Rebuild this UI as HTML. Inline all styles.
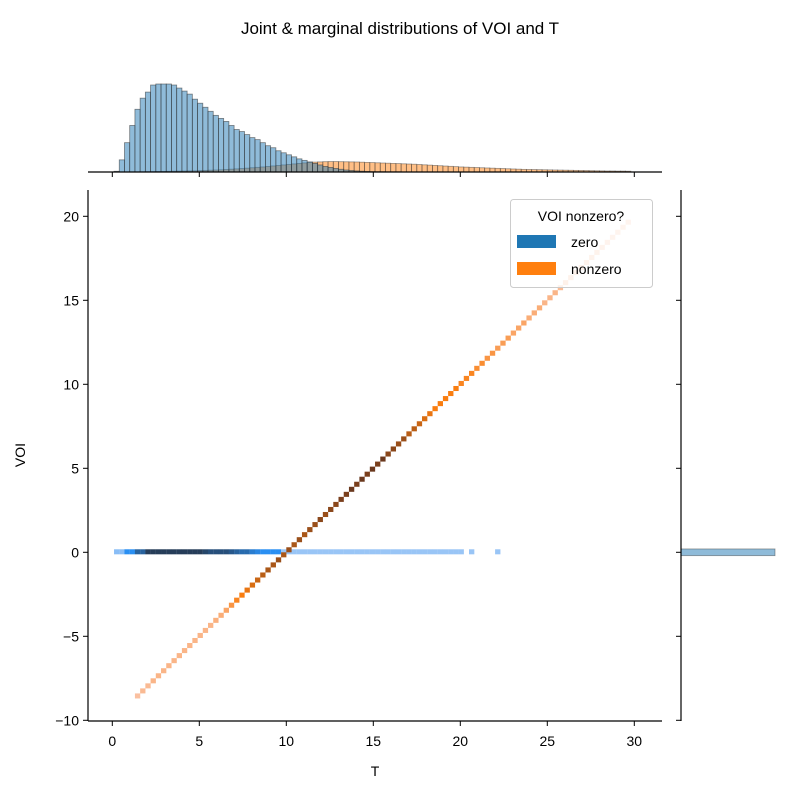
<!DOCTYPE html>
<html><head><meta charset="utf-8">
<style>
html,body{margin:0;padding:0;background:#fff;}
svg{display:block;font-family:"Liberation Sans","DejaVu Sans",sans-serif;}
</style></head>
<body>
<svg id="chart" width="800" height="800" viewBox="0 0 800 800" xmlns="http://www.w3.org/2000/svg">
<rect width="800" height="800" fill="#fff"/>
<text x="400" y="34" font-size="17" text-anchor="middle">Joint &amp; marginal distributions of VOI and T</text>
<g id="marg-top"></g>
<g id="marg-right"></g>
<g id="heat"></g>
<g id="axes"></g>
<g>
<rect x="510.5" y="199.5" width="142" height="88" rx="3" fill="#fff" fill-opacity="0.8" stroke="#ccc"/>
<text x="581" y="221" font-size="14" text-anchor="middle">VOI nonzero?</text>
<rect x="517" y="235" width="39" height="13" fill="#1f77b4"/>
<text x="571" y="247" font-size="14">zero</text>
<rect x="517" y="262" width="39" height="13" fill="#ff7f0e"/>
<text x="571" y="274" font-size="14">nonzero</text>
</g>
<text x="375" y="776" font-size="14" text-anchor="middle">T</text>
<text x="25" y="455" font-size="14" text-anchor="middle" transform="rotate(-90 25 455)">VOI</text>
</svg>
<script>
const binStart = 0.1;
const binWidth = 0.3;
const blueCounts = [0.7,12,29,46,62,73,79,86,87,87,87,86,83,80,77,72,68,64,60,56,53,50,46,42,40,37,34,32,29,26,24,21,19,17,15,13,11.5,10,8.5,7,5.5,4.5,3.5,2.7,2,1.5,1.1,0.8,0.6,0.4,0.3,0.3,0.2,0.2,0.2,0.1,0.1,0.1,0.1,0.1,0.1,0.1,0.1,0.1,0.1,0.1,0.1,0.1,0.1,0.1,0,0,0,0.1];
const orangeCounts = [0,0,0,0,0.1,0.2,0.3,0.4,0.5,0.6,0.7,0.8,0.9,1,1.1,1.2,1.4,1.6,1.8,2,2.2,2.5,2.8,3.1,3.4,3.8,4.2,4.6,5,5.5,6,6.5,7,7.5,8,8.5,9,9.5,9.8,10,10.2,10.3,10.3,10.2,10.1,10,9.9,9.7,9.5,9.3,9.1,8.9,8.7,8.5,8.3,8.1,7.9,7.7,7.4,7.1,6.8,6.5,6.2,5.9,5.6,5.3,5.0,4.8,4.6,4.4,4.2,4.0,3.8,3.6,3.4,3.2,3.0,2.8,2.6,2.5,2.4,2.3,2.2,2.1,2.0,1.9,1.8,1.7,1.6,1.5,1.4,1.3,1.2,1.1,1.0,1.0,0.9,0.9,0.8];
const blueHeat = [0.2,0.2,0.5,0.5,0.75,0.75,0.95,0.95,0.95,0.95,0.95,0.95,0.95,0.95,0.95,0.95,0.95,0.9,0.85,0.85,0.85,0.85,0.8,0.75,0.7,0.7,0.6,0.55,0.5,0.5,0.5,0.5,0.15,0.15,0.15,0.15,0.15,0.15,0.15,0.15,0.15,0.15,0.15,0.15,0.15,0.15,0.15,0.15,0.15,0.15,0.15,0.15,0.15,0.15,0.15,0.15,0.15,0.15,0.15,0.15,0.15,0.15,0.15,0.15,0.15,0.15,0.15,0,0.15,0,0,0,0,0.15];
const orangeHeat = [0,0,0,0,0.08,0.12,0.12,0.15,0.15,0.15,0.15,0.15,0.15,0.15,0.15,0.15,0.15,0.15,0.15,0.18,0.2,0.25,0.35,0.45,0.5,0.55,0.6,0.65,0.7,0.75,0.75,0.8,0.75,0.8,0.75,0.8,0.75,0.8,0.8,0.85,0.8,0.85,0.85,0.9,0.9,0.95,0.9,0.95,0.9,0.95,0.9,0.95,0.85,0.85,0.8,0.8,0.7,0.7,0.65,0.6,0.55,0.5,0.5,0.5,0.5,0.5,0.45,0.45,0.45,0.4,0.4,0.35,0.35,0.3,0.3,0.3,0.25,0.25,0.25,0.2,0.2,0.2,0.15,0.15,0.15,0.12,0.12,0.1,0.1,0.1,0.08,0.08,0.08,0.06,0.06,0.05,0.05,0.05,0.05];
const xTicks = [0,5,10,15,20,25,30];
const yTicks = [-10,-5,0,5,10,15,20];
const rightCounts = [1];

const SVGNS = "http://www.w3.org/2000/svg";
const xScale = t => 112.3 + t * 17.4;
const yScale = v => 552.3 - v * 16.8;
const topBase = 172, topScale = 88 / 87;
function mk(tag, attrs, parent) {
  const e = document.createElementNS(SVGNS, tag);
  for (const k in attrs) e.setAttribute(k, attrs[k]);
  parent.appendChild(e);
  return e;
}
function lerpC(a, b, t) { return a.map((v, i) => Math.round(v + (b[i] - v) * t)); }
function cmap(stops, v) {
  const n = stops.length - 1, p = Math.min(Math.max(v, 0), 1) * n, i = Math.min(Math.floor(p), n - 1);
  const c = lerpC(stops[i], stops[i + 1], p - i);
  return "rgb(" + c.join(",") + ")";
}
const blueStops = [[200,220,248],[42,143,242],[37,52,72]];
const orangeStops = [[250,205,188],[249,125,16],[90,48,32]];

const topGroup = document.getElementById("marg-top");
orangeCounts.forEach((c, i) => {
  if (c <= 0) return;
  const t0 = binStart + i * binWidth, h = c * topScale;
  const r = mk("rect", {x: xScale(t0), y: topBase - h, width: binWidth * 17.4, height: h, fill: "#ff7f0e", "fill-opacity": 0.5, stroke: "#333", "stroke-opacity": 0.5, "stroke-width": 0.8}, topGroup);
  
  
});
blueCounts.forEach((c, i) => {
  if (c <= 0) return;
  const t0 = binStart + i * binWidth, h = c * topScale;
  const r = mk("rect", {x: xScale(t0), y: topBase - h, width: binWidth * 17.4, height: h, fill: "#1f77b4", "fill-opacity": 0.5, stroke: "#333", "stroke-opacity": 0.6, "stroke-width": 0.8}, topGroup);
  
  
});

const rightGroup = document.getElementById("marg-right");
rightCounts.forEach(c => {
  const r = mk("rect", {x: 681, y: yScale(0.2), width: c * 94, height: 0.4 * 16.8, fill: "#1f77b4", "fill-opacity": 0.5, stroke: "#333", "stroke-opacity": 0.5, "stroke-width": 0.8}, rightGroup);
  
  
});

const heatGroup = document.getElementById("heat");
const bw = binWidth * 17.4, bh = binWidth * 16.8;
blueHeat.forEach((v, i) => {
  if (v <= 0) return;
  const t0 = binStart + i * binWidth;
  const r = mk("rect", {x: xScale(t0), y: yScale(0) - bh / 2 - 0.5, width: bw + 0.1, height: bh, fill: cmap(blueStops, v)}, heatGroup);
  
  
});
orangeHeat.forEach((v, i) => {
  if (v <= 0) return;
  const t0 = binStart + i * binWidth, tc = t0 + binWidth / 2;
  const r = mk("rect", {x: xScale(t0), y: yScale(tc - 10) - bh / 2, width: bw + 0.1, height: bh, fill: cmap(orangeStops, v)}, heatGroup);
  
  
});

const axGroup = document.getElementById("axes");
mk("line", {x1: 88, y1: 721, x2: 662, y2: 721, stroke: "#000", "stroke-width": 1.2}, axGroup);
mk("line", {x1: 88, y1: 190, x2: 88, y2: 721, stroke: "#000", "stroke-width": 1.2}, axGroup);
mk("line", {x1: 88, y1: topBase, x2: 662, y2: topBase, stroke: "#000", "stroke-width": 1.2}, axGroup);
mk("line", {x1: 681, y1: 190, x2: 681, y2: 721, stroke: "#000", "stroke-width": 1.2}, axGroup);
xTicks.forEach(t => {
  mk("line", {x1: xScale(t), y1: 721, x2: xScale(t), y2: 726, stroke: "#000"}, axGroup);
  mk("line", {x1: xScale(t), y1: topBase, x2: xScale(t), y2: topBase + 5, stroke: "#000"}, axGroup);
  const tx = mk("text", {x: xScale(t), y: 746, "font-size": 14, "text-anchor": "middle"}, axGroup);
  tx.textContent = t;
  
  
});
yTicks.forEach(v => {
  mk("line", {x1: 83, y1: yScale(v), x2: 88, y2: yScale(v), stroke: "#000"}, axGroup);
  mk("line", {x1: 676, y1: yScale(v), x2: 681, y2: yScale(v), stroke: "#000"}, axGroup);
  const tx = mk("text", {x: 79, y: yScale(v) + 5, "font-size": 14, "text-anchor": "end"}, axGroup);
  tx.textContent = v < 0 ? "\u2212" + (-v) : v;
  
  
});
</script>
</body></html>
